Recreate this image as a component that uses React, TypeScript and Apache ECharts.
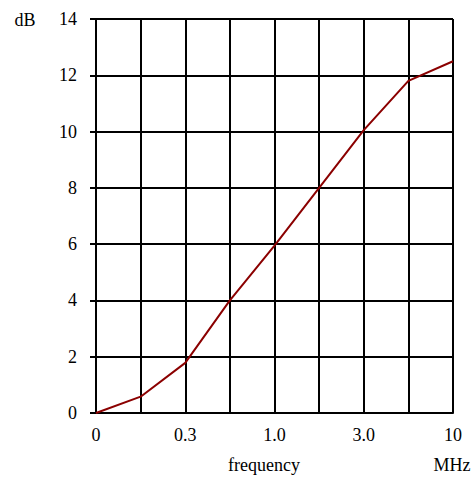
import React, { useEffect, useRef } from "react";
import * as echarts from "echarts";

const xPositions = [0, 1, 2, 3, 4, 5, 6, 7, 8];
const xTickLabels = ["0", "", "0.3", "", "1.0", "", "3.0", "", "10"];
const gainDb = [0, 0.58, 1.78, 4.0, 5.95, 8.0, 10.05, 11.8, 12.5];
const yTicks = [0, 2, 4, 6, 8, 10, 12, 14];

const FONT = "serif";

export default function App() {
  const ref = useRef<HTMLDivElement>(null);
  useEffect(() => {
    if (!ref.current) return;
    const chart = echarts.init(ref.current, undefined, { renderer: "svg" });
    const textStyle = { fontFamily: FONT, fontSize: 18, fill: "#000", align: "center", verticalAlign: "middle" };
    chart.setOption({
      animation: false,
      backgroundColor: "#ffffff",
      textStyle: { fontFamily: FONT },
      grid: { left: 96, right: 20, top: 19, bottom: 64, containLabel: false },
      xAxis: {
        type: "value",
        min: 0,
        max: 8,
        interval: 1,
        axisLine: { show: true, lineStyle: { color: "#000", width: 2 } },
        axisTick: { show: false },
        splitLine: { show: true, lineStyle: { color: "#000", width: 2 } },
        axisLabel: {
          margin: 13,
          color: "#000",
          fontFamily: FONT,
          fontSize: 18,
          formatter: (v: number) => xTickLabels[Math.round(v)] ?? "",
        },
      },
      yAxis: {
        type: "value",
        min: yTicks[0],
        max: yTicks[yTicks.length - 1],
        interval: 2,
        axisLine: { show: true, lineStyle: { color: "#000", width: 2 } },
        axisTick: { show: true, inside: false, length: 6, lineStyle: { color: "#000", width: 2 } },
        splitLine: { show: true, lineStyle: { color: "#000", width: 2 } },
        axisLabel: {
          margin: 19,
          color: "#000",
          fontFamily: FONT,
          fontSize: 18,
        },
      },
      graphic: [
        { type: "text", x: 25, y: 20, style: { ...textStyle, text: "dB" } },
        { type: "text", x: 264, y: 465, style: { ...textStyle, text: "frequency" } },
        { type: "text", x: 452, y: 465, style: { ...textStyle, text: "MHz" } },
      ],
      series: [
        {
          type: "line",
          data: xPositions.map((x, i) => [x, gainDb[i]]),
          showSymbol: false,
          symbol: "none",
          lineStyle: { color: "#8b0000", width: 2 },
          z: 5,
        },
      ],
    });
    return () => chart.dispose();
  }, []);
  return <div ref={ref} style={{ width: 473, height: 477, position: "absolute", left: 0, top: 0 }} />;
}
